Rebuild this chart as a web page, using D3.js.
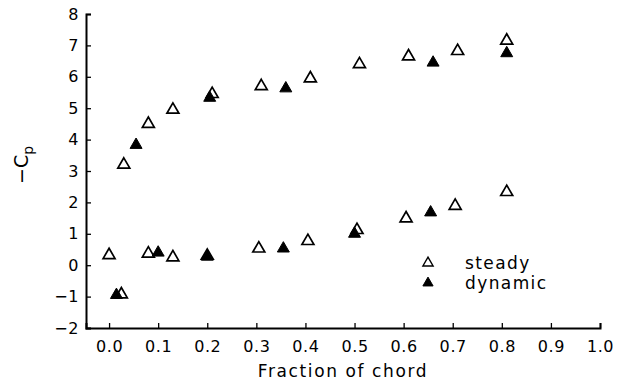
<!DOCTYPE html>
<html>
<head>
<meta charset="utf-8">
<script src="https://cdn.jsdelivr.net/npm/d3@7"></script>
<style>
  body { margin: 0; background: #fff; }
  text { font-family: "DejaVu Sans", sans-serif; fill: #000; }
</style>
</head>
<body>
<div id="chart"></div>
<script>
// fraction of chord / -Cp
const steadyX = [0.03, 0.08, 0.13, 0.21, 0.31, 0.41, 0.51, 0.61, 0.71, 0.81,
  0.0, 0.025, 0.08, 0.13, 0.2, 0.305, 0.405, 0.505, 0.605, 0.705, 0.81];
const steadyY = [3.2, 4.5, 4.95, 5.45, 5.7, 5.95, 6.4, 6.65, 6.82, 7.15,
  0.32, -0.93, 0.37, 0.25, 0.3, 0.53, 0.77, 1.12, 1.49, 1.89, 2.33];
const dynamicX = [0.055, 0.205, 0.36, 0.66, 0.81,
  0.015, 0.1, 0.2, 0.355, 0.5, 0.655];
const dynamicY = [3.83, 5.33, 5.63, 6.45, 6.75,
  -0.95, 0.4, 0.27, 0.53, 1.0, 1.68];
const xTicks = [0, 0.1, 0.2, 0.3, 0.4, 0.5, 0.6, 0.7, 0.8, 0.9, 1.0];
const yTicks = [-2, -1, 0, 1, 2, 3, 4, 5, 6, 7, 8];
const seriesNames = ['steady', 'dynamic'];

const width = 618;
const height = 387;
const margin = { top: 14, right: 18, bottom: 59, left: 86 };

const svg = d3.select('#chart')
  .append('svg')
  .attr('width', width)
  .attr('height', height);

const x = d3.scaleLinear()
  .domain([-0.047, 1.0])
  .range([margin.left, width - margin.right]);

const y = d3.scaleLinear()
  .domain([-2, 8])
  .range([height - margin.bottom, margin.top]);

// axes, ticks pointing inward
const xAxis = svg.append('g')
  .attr('transform', `translate(0,${height - margin.bottom})`)
  .call(d3.axisBottom(x).tickValues(xTicks).tickSize(-5).tickPadding(13)
    .tickFormat(d3.format('.1f')));

const yAxis = svg.append('g')
  .attr('transform', `translate(${margin.left},0)`)
  .call(d3.axisLeft(y).tickValues(yTicks).tickSize(-5).tickPadding(7));

[xAxis, yAxis].forEach((ax) => {
  ax.select('.domain').attr('stroke', '#000').attr('stroke-width', 2);
  ax.selectAll('.tick line').attr('stroke', '#000').attr('stroke-width', 1.3);
  ax.selectAll('.tick text').attr('font-size', 16).style('letter-spacing', '0.6px')
    .attr('font-family', '"DejaVu Sans", sans-serif');
});

// axis labels
svg.append('text')
  .attr('x', (margin.left + width - margin.right) / 2)
  .attr('y', 377)
  .attr('text-anchor', 'middle')
  .attr('font-size', 17)
  .style('letter-spacing', '1.6px')
  .text('Fraction of chord');

const yLabel = svg.append('text')
  .attr('transform', `translate(28,165) rotate(-90)`)
  .attr('text-anchor', 'middle')
  .attr('font-size', 19);
yLabel.append('tspan').text('\u2212C');
yLabel.append('tspan').attr('font-size', 14).attr('dy', 5).text('p');

const tri = d3.symbol().type(d3.symbolTriangle).size(62);

svg.append('g')
  .selectAll('path')
  .data(steadyX.map((d, i) => [d, steadyY[i]]))
  .join('path')
  .attr('d', tri)
  .attr('transform', (d) => `translate(${x(d[0])},${y(d[1])})`)
  .attr('fill', '#fff')
  .attr('stroke', '#000')
  .attr('stroke-width', 1.7);

svg.append('g')
  .selectAll('path')
  .data(dynamicX.map((d, i) => [d, dynamicY[i]]))
  .join('path')
  .attr('d', tri)
  .attr('transform', (d) => `translate(${x(d[0])},${y(d[1])})`)
  .attr('fill', '#000')
  .attr('stroke', '#000')
  .attr('stroke-width', 1);

// legend
const legend = svg.append('g');
seriesNames.forEach((name, i) => {
  const ly = 263 + i * 20;
  legend.append('path')
    .attr('d', d3.symbol().type(d3.symbolTriangle).size(45))
    .attr('transform', `translate(428,${ly})`)
    .attr('fill', i === 0 ? '#fff' : '#000')
    .attr('stroke', '#000')
    .attr('stroke-width', i === 0 ? 1.4 : 1);
  legend.append('text')
    .attr('x', 465)
    .attr('y', ly + 6)
    .attr('font-size', 17)
    .style('letter-spacing', '1.4px')
    .text(name);
});
</script>
</body>
</html>
